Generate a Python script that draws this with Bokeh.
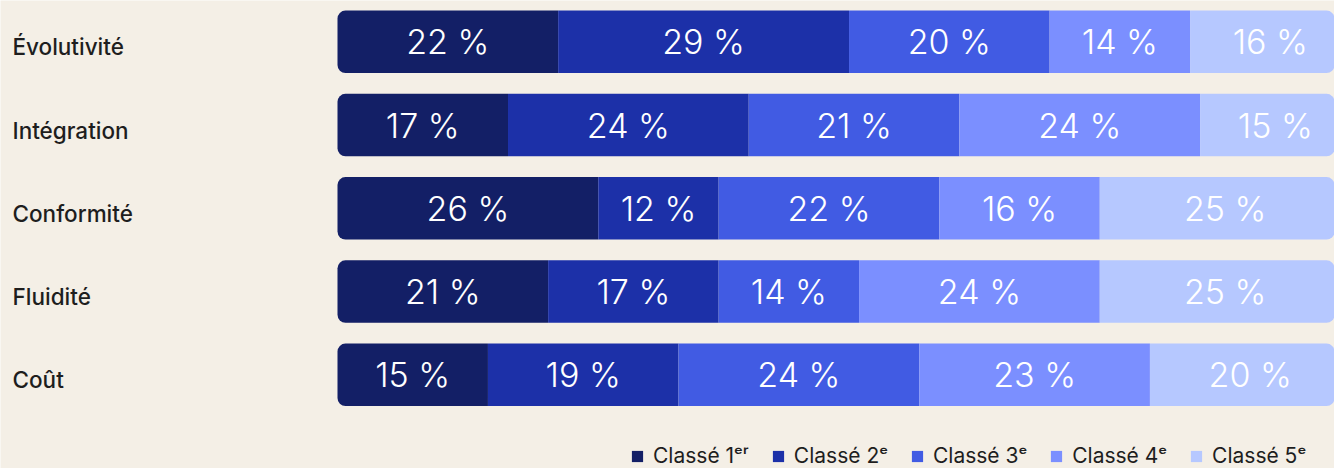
from bokeh.plotting import figure
from bokeh.models import ColumnDataSource, Range1d, Legend, LegendItem
from bokeh.core.properties import value
from bokeh.embed import file_html
from bokeh.resources import INLINE

# ---- data ----
categories = ["Évolutivité", "Intégration", "Conformité", "Fluidité", "Coût"]
rank_1 = [22, 17, 26, 21, 15]
rank_2 = [29, 24, 12, 17, 19]
rank_3 = [20, 21, 22, 14, 24]
rank_4 = [14, 24, 16, 24, 23]
rank_5 = [16, 15, 25, 25, 20]
series = [rank_1, rank_2, rank_3, rank_4, rank_5]
series_labels = ["Classé 1ᵉʳ", "Classé 2ᵉ", "Classé 3ᵉ", "Classé 4ᵉ", "Classé 5ᵉ"]

# ---- style ----
colors = ["#131F66", "#1C30A8", "#415BE3", "#7B8FFF", "#B6C8FF"]
BG = "#F4EFE6"
TEXT = "#1E1E1E"
W, H = 1334, 468
PX_PER_UNIT = 10.03
BAR_LEFT_PX = 337
ROW_PX = 83.25
TOP_ROW_PX = 41.3
LABEL_LEFT_PX = 12
BAR_H = 62.5 / ROW_PX
R = 8

x0 = -BAR_LEFT_PX / PX_PER_UNIT
x1 = x0 + W / PX_PER_UNIT
y_top = -TOP_ROW_PX / ROW_PX
y_bottom = y_top + H / ROW_PX

p = figure(width=W, height=H, x_range=Range1d(x0, x1), y_range=Range1d(y_bottom, y_top),
           output_backend="svg", toolbar_location=None, min_border=0,
           x_axis_location=None, y_axis_location=None,
           background_fill_color=BG, border_fill_color=BG, outline_line_color=None)
p.xgrid.visible = False
p.ygrid.visible = False

ys = list(range(len(categories)))
left = [0.0] * len(categories)
renderers = []
radii = [(R, 0, 0, R), 0, 0, 0, (0, R, R, 0)]
for k, vals in enumerate(series):
    right = [l + v for l, v in zip(left, vals)]
    src = ColumnDataSource(dict(
        y=ys, left=left, right=right,
        xc=[(l + r) / 2 for l, r in zip(left, right)],
        lab=[f"{v} %" for v in vals],
    ))
    r = p.hbar(y="y", left="left", right="right", height=BAR_H, source=src,
               fill_color=colors[k], line_color=None, border_radius=radii[k])
    renderers.append(r)
    p.text(x="xc", y="y", text="lab", source=src, text_align="center",
           text_baseline="middle", text_color="white", text_font_size="34px",
           text_font=value("Inter Light"))
    left = right

p.text(x=[x0 + LABEL_LEFT_PX / PX_PER_UNIT] * len(categories), y=ys, text=categories,
       text_align="left", text_baseline="middle", text_color=TEXT, y_offset=5,
       text_font_size="22.5px", text_font=value("Inter Medium"))

legend = Legend(items=[LegendItem(label=series_labels[k], renderers=[renderers[k]]) for k in range(5)],
                orientation="horizontal", location=(630, 0), glyph_width=14, glyph_height=14,
                label_standoff=9, spacing=22, padding=0, margin=0,
                background_fill_alpha=0, border_line_alpha=0,
                label_text_font_size="21px", label_text_color=TEXT,
                label_text_font="Inter")
p.add_layout(legend)

open("out.html", "w").write(file_html(p, INLINE))
